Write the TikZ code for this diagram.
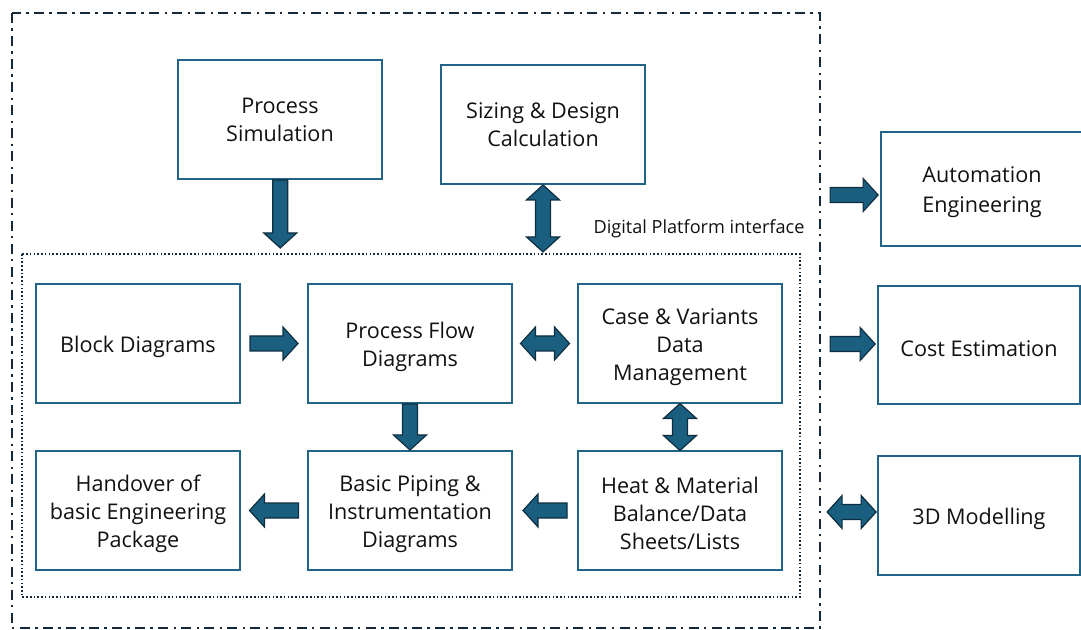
\documentclass[tikz,border=0pt]{standalone}
\usepackage{fontspec}
\setmainfont{Open Sans}
\usetikzlibrary{calc}
\definecolor{boxc}{HTML}{226488}
\definecolor{arrfill}{HTML}{1A5F80}
\definecolor{arrline}{HTML}{0E2F40}
\definecolor{framec}{HTML}{15293A}
\definecolor{txtc}{HTML}{111111}
\newcommand\fstrut{\rule{0pt}{16.8pt}}
\tikzset{
  box/.style={draw=boxc, line width=1.6pt, minimum width=153pt, minimum height=89pt,
    align=center, text=txtc, font=\fontsize{16.2}{21}\selectfont, inner sep=0pt},
  rbox/.style={box, minimum width=151pt},
  fatar/.style={fill=arrfill, draw=arrline, line width=0.9pt, line join=miter},
  pics/fatarr/.style={code={\draw[fatar] ({-#1/2},-7.5) -- ({#1/2-15},-7.5) -- ({#1/2-15},-16.5) -- ({#1/2},0) -- ({#1/2-15},16.5) -- ({#1/2-15},7.5) -- ({-#1/2},7.5) -- cycle;}},
  pics/dblarr/.style={code={\draw[fatar] ({-#1/2},0) -- ({-#1/2+15},-16.5) -- ({-#1/2+15},-7.5) -- ({#1/2-15},-7.5) -- ({#1/2-15},-16.5) -- ({#1/2},0) -- ({#1/2-15},16.5) -- ({#1/2-15},7.5) -- ({-#1/2+15},7.5) -- ({-#1/2+15},16.5) -- cycle;}},
  outerframe/.style={draw=framec, line width=1.9pt, dash pattern=on 7.5pt off 4pt on 1.8pt off 4pt},
  innerframe/.style={draw=framec, line width=1.6pt, dash pattern=on 1.2pt off 1.6pt},
}
\begin{document}
\begin{tikzpicture}[x=0.75pt,y=-0.75pt]
\useasboundingbox (0,0) rectangle (1081,630);
\clip (0,0) rectangle (1081,630);
% frames
\draw[outerframe] (12,13) rectangle (820,628);
\draw[innerframe] (22,254) rectangle (800,597);
\node[font=\fontsize{13.6}{16}\selectfont, text=txtc, anchor=center] (dpi) at (699,229) {Digital Platform interface};
% boxes
\node[box] (ps) at (280,119.5) {Process\\Simulation};
\node[box] (sd) at (543,124.5) {Sizing \& Design\\Calculation};
\node[box] (bd) at (138,343.5) {\fstrut Block Diagrams};
\node[box] (pfd) at (410,343.5) {\fstrut Process Flow\\Diagrams};
\node[box] (cv) at (680,343.5) {\fstrut Case \& Variants\\Data\\Management};
\node[box] (ho) at (138,510.5) {\fstrut Handover of\\basic Engineering\\Package};
\node[box] (pid) at (410,510.5) {\fstrut Basic Piping \&\\Instrumentation\\Diagrams};
\node[box] (hm) at (680,510.5) {\fstrut Heat \& Material\\Balance/Data\\Sheets/Lists};
\node[rbox, minimum height=86pt, font=\fontsize{16.2}{22}\selectfont] (ae) at (982,189) {\fstrut Automation\\Engineering};
\node[rbox] (ce) at (979,345) {\fstrut Cost Estimation};
\node[rbox] (md) at (979,515.5) {\fstrut 3D Modelling};
% free ends
\coordinate (psend) at (280.5,248);
\coordinate (sdend) at (543,252);
\coordinate (frE1) at (828,195);
\coordinate (frE2) at (828,344);
\coordinate (frE3) at (826,512);
% arrows
\pic[rotate=-90] at ($(ps.south)!0.5!(psend)$) {fatarr=68};
\pic[rotate=90] at ($(sd.south)!0.5!(sdend)$) {dblarr=67};
\pic at ($(bd.east)!0.5!(pfd.west)$) {fatarr=48};
\pic at ($(pfd.east)!0.5!(cv.west)$) {dblarr=49};
\pic[rotate=-90] at ($(pfd.south)!0.5!(pid.north)$) {fatarr=46};
\pic[rotate=90] at ($(cv.south)!0.5!(hm.north)$) {dblarr=47};
\pic[rotate=180] at ($(hm.west)!0.5!(pid.east)$) {fatarr=44};
\pic[rotate=180] at ($(pid.west)!0.5!(ho.east)$) {fatarr=49};
\pic at ($(frE1)!0.5!(ae.west |- frE1)$) {fatarr=48};
\pic at ($(frE2)!0.5!(ce.west |- frE2)$) {fatarr=45};
\pic at ($(frE3)!0.5!(md.west |- frE3)$) {dblarr=49};
\end{tikzpicture}
\end{document}
